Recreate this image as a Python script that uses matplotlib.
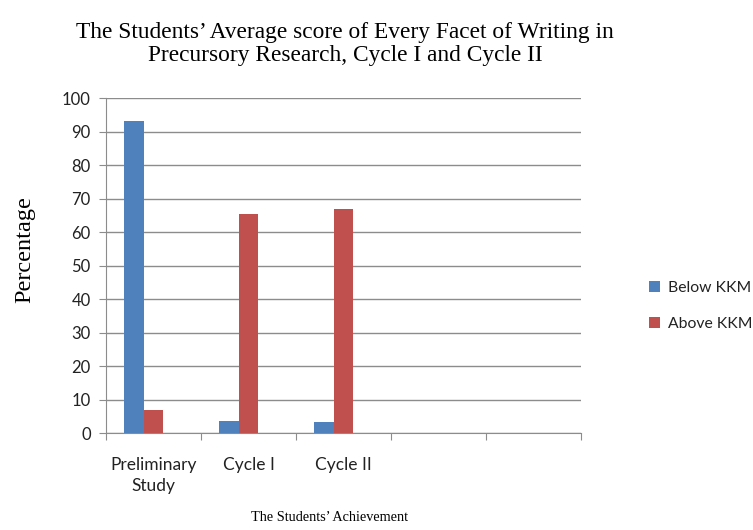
import numpy as np
import matplotlib.pyplot as plt

# chart data
categories = ["Preliminary\nStudy", "Cycle I", "Cycle II", "", ""]
below_kkm = [93, 3.5, 3.2, 0, 0]
above_kkm = [7, 65.3, 67, 0, 0]
series_names = ["Below KKM", "Above KKM"]
yticks = list(range(0, 101, 10))

blue = "#4F81BD"
red = "#C0504D"
grid_col = "#8C8C8C"
txt_col = "#222222"

fig = plt.figure(figsize=(7.53, 5.30), dpi=100)
ax = fig.add_axes([0.1408, 0.183, 0.6308, 0.632])

x = np.arange(len(categories))
w = 0.21
ax.bar(x - w, below_kkm, width=w, color=blue, label=series_names[0], zorder=3)
ax.bar(x, above_kkm, width=w, color=red, label=series_names[1], zorder=3)

ax.set_xlim(-0.5, len(categories) - 0.5)
ax.set_ylim(0, 100)
ax.set_yticks(yticks)
ax.yaxis.grid(True, color=grid_col, linewidth=1.0, zorder=0)

# category ticks sit on the boundaries, labels in the middle
ax.set_xticks(np.arange(-0.5, len(categories)), minor=False)
ax.set_xticklabels([])
ax.set_xticks(x, minor=True)
ax.set_xticklabels(categories, minor=True, fontname="Lato", fontsize=12.5,
                   color=txt_col, linespacing=1.45)
ax.tick_params(axis="x", which="minor", length=0, pad=17)
ax.tick_params(axis="x", which="major", length=5, color=grid_col, direction="out")
ax.tick_params(axis="y", length=5, color=grid_col, direction="out", pad=6)
for lab in ax.get_yticklabels():
    lab.set_fontname("Lato")
    lab.set_fontsize(12)
    lab.set_color(txt_col)

for side in ["top", "right"]:
    ax.spines[side].set_visible(False)
for side in ["left", "bottom"]:
    ax.spines[side].set_color(grid_col)

fig.text(0.458, 0.917, "The Students\u2019 Average score of Every Facet of Writing in\nPrecursory Research, Cycle I and Cycle II",
         ha="center", va="center", fontname="Liberation Serif", fontsize=16.8, linespacing=1.08)
fig.text(0.033, 0.53, "Percentage", rotation=90, ha="center", va="center",
         fontname="Liberation Serif", fontsize=17.5)
fig.text(0.437, 0.023, "The Students\u2019 Achievement", ha="center", va="center",
         fontname="Liberation Serif", fontsize=10.3)

leg = fig.legend(loc="center left", bbox_to_anchor=(0.862, 0.422), frameon=False,
                 prop={"family": "Lato", "size": 11.3}, handlelength=0.7, handleheight=0.7,
                 handletextpad=0.5, labelspacing=1.4, borderaxespad=0, borderpad=0)
for t in leg.get_texts():
    t.set_color(txt_col)

fig.savefig("out.png", dpi=100)
